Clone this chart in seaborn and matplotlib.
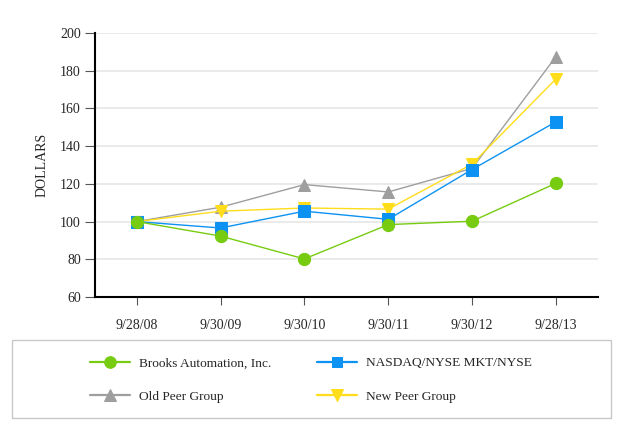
import matplotlib
matplotlib.use("Agg")
import matplotlib.pyplot as plt
from matplotlib.patches import Rectangle
import pandas as pd
import seaborn as sns

# Data
dates = ["9/28/08", "9/30/09", "9/30/10", "9/30/11", "9/30/12", "9/28/13"]
brooks = [100, 92.3, 80.2, 98.4, 100.2, 120.3]
nasdaq = [100, 96.6, 105.5, 101.2, 127.6, 152.9]
old_peer = [100, 107.6, 119.6, 115.7, 128.2, 187.4]
new_peer = [100, 105.5, 107.2, 106.6, 130.5, 175.6]

series = [
    ("Brooks Automation, Inc.", brooks, "#77CC11", "o", 8.8),
    ("NASDAQ/NYSE MKT/NYSE", nasdaq, "#0C92F2", "s", 8.3),
    ("Old Peer Group", old_peer, "#9E9E9E", "^", 9),
    ("New Peer Group", new_peer, "#FFDD1A", "v", 9),
]

sns.set_style("white")
plt.rcParams["font.family"] = ["Liberation Serif", "DejaVu Serif"]

fig = plt.figure(figsize=(6.32, 4.33), dpi=100)
ax = fig.add_axes([0.150, 0.314, 0.796, 0.610])

# draw back-to-front like the reference: gray, yellow, blue, green on top
order = [2, 3, 1, 0]
for z, i in enumerate(order):
    name, vals, color, marker, ms = series[i]
    df = pd.DataFrame({"x": range(len(dates)), "y": vals})
    sns.lineplot(data=df, x="x", y="y", ax=ax, color=color, marker=marker,
                 markersize=ms, markeredgecolor=color, linewidth=1.0,
                 label=name, zorder=3 + z)

ax.set_xlim(-0.5, 5.5)
ax.set_ylim(60, 200)
ax.set_yticks(range(60, 201, 20))
ax.set_xticks(range(len(dates)))
ax.set_xticklabels(dates)
ax.set_xlabel("")
ax.set_ylabel("DOLLARS", fontsize=10, labelpad=8)
ax.yaxis.grid(True, color="#E6E6E6", linewidth=1.2)
ax.set_axisbelow(True)

for s in ["top", "right"]:
    ax.spines[s].set_visible(False)
for s in ["left", "bottom"]:
    ax.spines[s].set_color("black")
    ax.spines[s].set_linewidth(1.5)

ax.tick_params(axis="y", direction="out", length=7, width=0.8, color="#555555",
               labelsize=10, pad=3, left=True)
ax.tick_params(axis="x", direction="out", length=6, width=0.8, color="#555555",
               labelsize=10, pad=10, bottom=True)

ax.get_legend().remove()
handles, labels = ax.get_legend_handles_labels()
lookup = dict(zip(labels, handles))
names = [series[0][0], series[2][0], series[1][0], series[3][0]]
leg = fig.legend([lookup[n] for n in names], names, ncol=2,
                 loc="center left", bbox_to_anchor=(90 / 632, 1 - 380 / 433),
                 frameon=False, fontsize=9.6, handlelength=3.0,
                 handletextpad=0.7, columnspacing=3.4, labelspacing=1.6,
                 borderpad=0, borderaxespad=0, markerscale=0.95)
for line in leg.get_lines():
    line.set_linewidth(1.6)

# legend box spanning the figure width
fig.patches.append(Rectangle((12 / 632, 1 - 418 / 433), 599 / 632, 78 / 433,
                             transform=fig.transFigure, fill=False,
                             edgecolor="#C8C8C8", linewidth=1.0))

fig.savefig("out.png", dpi=100)
